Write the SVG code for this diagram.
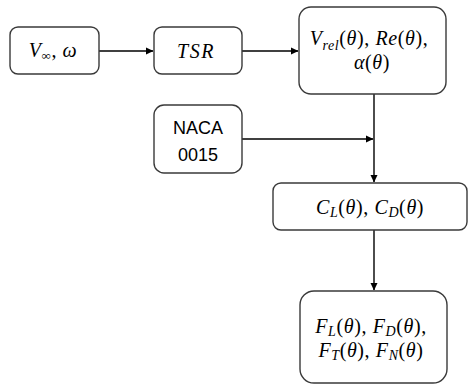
<svg xmlns="http://www.w3.org/2000/svg" width="469" height="385" viewBox="0 0 469 385">
<style>
.box{fill:#fff;stroke:#3a3a3a;stroke-width:1.4}
.m{font-family:"Liberation Serif","DejaVu Serif",serif;font-size:20px;fill:#000;letter-spacing:0.6px}
.i{font-style:italic}
.s{font-size:14px;font-style:italic}
.t{font-family:"Liberation Sans",Arial,sans-serif;font-size:18px;fill:#000}
.c{fill:none;stroke:#000;stroke-width:1.4}
</style>
<defs>
<marker id="ah" markerWidth="8" markerHeight="8" refX="7" refY="4" orient="auto" markerUnits="userSpaceOnUse">
<path d="M0,0.5 L7.5,4 L0,7.5 Z" fill="#000"/>
</marker>
</defs>
<g id="connectors">
<line class="c" x1="99" y1="51" x2="153" y2="51" marker-end="url(#ah)"/>
<line class="c" x1="242" y1="51" x2="298" y2="51" marker-end="url(#ah)"/>
<line class="c" x1="242" y1="139" x2="373" y2="139" marker-end="url(#ah)"/>
<line class="c" x1="374" y1="94" x2="374" y2="182" marker-end="url(#ah)"/>
<line class="c" x1="374" y1="230" x2="374" y2="290" marker-end="url(#ah)"/>
</g>
<g id="n_vinf">
<rect class="box" x="10" y="27" width="89" height="47" rx="8"/>
<text class="m" x="53" y="57" text-anchor="middle"><tspan class="i">V</tspan><tspan font-size="13" dy="3">∞</tspan><tspan dy="-3">, </tspan><tspan class="i">ω</tspan></text>
</g>
<g id="n_tsr">
<rect class="box" x="154" y="27" width="88" height="47" rx="8"/>
<text class="m i" x="196" y="58" text-anchor="middle" style="letter-spacing:1.5px">TSR</text>
</g>
<g id="n_vrel">
<rect class="box" x="299" y="7" width="147" height="87" rx="12"/>
<text class="m" x="369" y="45" text-anchor="middle"><tspan class="i">V</tspan><tspan class="s" dy="5">rel</tspan><tspan dy="-5">(</tspan><tspan class="i">θ</tspan><tspan>), </tspan><tspan class="i">Re</tspan><tspan>(</tspan><tspan class="i">θ</tspan><tspan>),</tspan></text>
<text class="m" x="372" y="69" text-anchor="middle"><tspan class="i">α</tspan><tspan>(</tspan><tspan class="i">θ</tspan><tspan>)</tspan></text>
</g>
<g id="n_naca">
<rect class="box" x="154" y="105" width="88" height="68" rx="10"/>
<text class="t" x="198" y="134" text-anchor="middle">NACA</text>
<text class="t" x="198" y="161" text-anchor="middle">0015</text>
</g>
<g id="n_cl">
<rect class="box" x="273" y="183" width="194" height="47" rx="8"/>
<text class="m" x="370" y="214" text-anchor="middle"><tspan class="i">C</tspan><tspan class="s" dy="3">L</tspan><tspan dy="-3">(</tspan><tspan class="i">θ</tspan><tspan>), </tspan><tspan class="i">C</tspan><tspan class="s" dy="3">D</tspan><tspan dy="-3">(</tspan><tspan class="i">θ</tspan><tspan>)</tspan></text>
</g>
<g id="n_f">
<rect class="box" x="300" y="291" width="147" height="92" rx="14"/>
<text class="m" x="371" y="333" text-anchor="middle"><tspan class="i">F</tspan><tspan class="s" dy="3">L</tspan><tspan dy="-3">(</tspan><tspan class="i">θ</tspan><tspan>), </tspan><tspan class="i">F</tspan><tspan class="s" dy="3">D</tspan><tspan dy="-3">(</tspan><tspan class="i">θ</tspan><tspan>),</tspan></text>
<text class="m" x="371" y="357" text-anchor="middle"><tspan class="i">F</tspan><tspan class="s" dy="3">T</tspan><tspan dy="-3">(</tspan><tspan class="i">θ</tspan><tspan>), </tspan><tspan class="i">F</tspan><tspan class="s" dy="3">N</tspan><tspan dy="-3">(</tspan><tspan class="i">θ</tspan><tspan>)</tspan></text>
</g>
</svg>
